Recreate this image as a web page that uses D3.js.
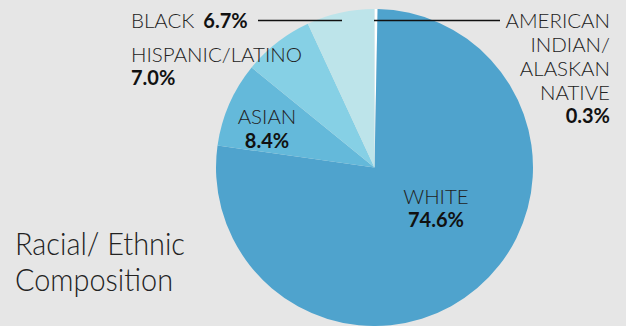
<!DOCTYPE html>
<html>
<head>
<meta charset="utf-8">
<script src="https://cdn.jsdelivr.net/npm/d3@7"></script>
<style>
  body { margin: 0; background: #e6e6e6; }
  svg { display: block; }
  .name { font-family: Lato, sans-serif; font-weight: 300; font-size: 20.5px; fill: #222; }
  .pct { font-family: Lato, sans-serif; font-weight: 700; font-size: 20px; fill: #111; }
  .title { font-family: Lato, sans-serif; font-weight: 300; font-size: 32px; fill: #222; }
</style>
</head>
<body>
<svg id="chart"></svg>
<script>
// data, clockwise from 12 o'clock
const groups = ["AMERICAN INDIAN/ ALASKAN NATIVE", "WHITE", "ASIAN", "HISPANIC/LATINO", "BLACK"];
const shares = [0.3, 74.6, 8.4, 7.0, 6.7];
const colors = ["#ffffff", "#4fa3cd", "#64b9da", "#86d0e5", "#bde4ea"];

const width = 626, height = 326;
const cx = 374.5, cy = 167.5, radius = 158.5;

const svg = d3.select("#chart")
    .attr("width", width)
    .attr("height", height);

svg.append("rect")
    .attr("width", width)
    .attr("height", height)
    .attr("fill", "#e6e6e6");

const color = d3.scaleOrdinal()
    .domain(groups)
    .range(colors);

const pie = d3.pie()
    .sort(null)
    .value(d => d.value);

const arc = d3.arc()
    .innerRadius(0)
    .outerRadius(radius);

const data = groups.map((g, i) => ({ name: g, value: shares[i] }));

const chart = svg.append("g")
    .attr("transform", `translate(${cx},${cy})`);

chart.selectAll(".slice")
  .data(pie(data))
  .join("path")
    .attr("class", "slice")
    .attr("d", arc)
    .attr("fill", d => color(d.data.name));

// labels (layout only, text comes from the arrays)
const fmt = v => v.toFixed(1) + "%";

// BLACK: one line, name + value, leader line to the top
const black = svg.append("text").attr("x", 131).attr("y", 28);
black.append("tspan").attr("class", "name").text("BLACK");
black.append("tspan").attr("class", "pct").attr("dx", 9).text(fmt(shares[4]));
svg.append("line")
    .attr("x1", 258).attr("x2", 342)
    .attr("y1", 20.5).attr("y2", 20.5)
    .attr("stroke", "#111").attr("stroke-width", 1.3);

// HISPANIC/LATINO
svg.append("text").attr("class", "name").attr("x", 131).attr("y", 62).text(groups[3]);
svg.append("text").attr("class", "pct").attr("x", 131).attr("y", 85).text(fmt(shares[3]));

// ASIAN
svg.append("text").attr("class", "name").attr("x", 267).attr("y", 124)
    .attr("text-anchor", "middle").text(groups[2]);
svg.append("text").attr("class", "pct").attr("x", 267).attr("y", 148)
    .attr("text-anchor", "middle").text(fmt(shares[2]));

// WHITE
svg.append("text").attr("class", "name").attr("x", 436).attr("y", 204)
    .attr("text-anchor", "middle").text(groups[1]);
svg.append("text").attr("class", "pct").attr("x", 436).attr("y", 227)
    .attr("text-anchor", "middle").text(fmt(shares[1]));

// AMERICAN INDIAN / ALASKAN NATIVE, right aligned, leader line to the top
const aiLines = ["AMERICAN", "INDIAN/", "ALASKAN", "NATIVE"];
svg.selectAll(".ai")
  .data(aiLines)
  .join("text")
    .attr("class", "name ai")
    .attr("x", 610)
    .attr("y", (d, i) => 28 + i * 24)
    .attr("text-anchor", "end")
    .text(d => d);
svg.append("text").attr("class", "pct").attr("x", 610).attr("y", 123)
    .attr("text-anchor", "end").text(fmt(shares[0]));
svg.append("line")
    .attr("x1", 374).attr("x2", 500)
    .attr("y1", 20.5).attr("y2", 20.5)
    .attr("stroke", "#111").attr("stroke-width", 1.3);

// title
svg.append("text").attr("class", "title").attr("x", 15).attr("y", 255)
    .attr("textLength", 170).attr("lengthAdjust", "spacingAndGlyphs")
    .text("Racial/ Ethnic");
svg.append("text").attr("class", "title").attr("x", 15).attr("y", 291)
    .attr("textLength", 158).attr("lengthAdjust", "spacingAndGlyphs")
    .text("Composition");
</script>
</body>
</html>
